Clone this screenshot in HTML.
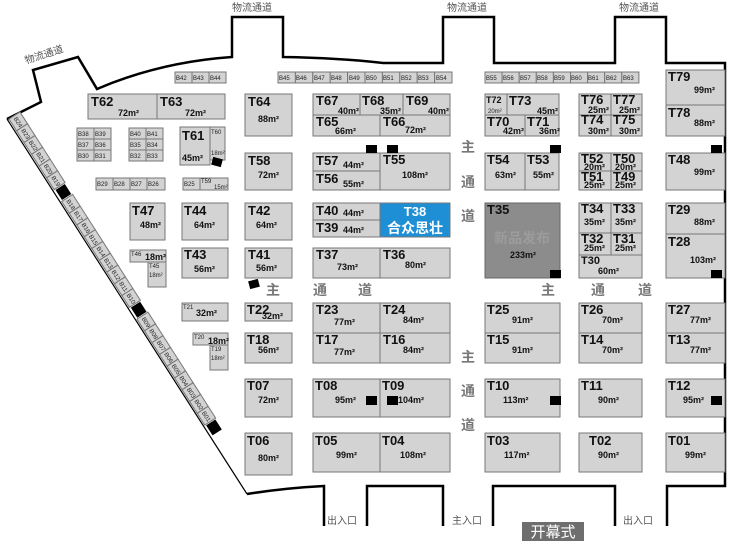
<!DOCTYPE html>
<html><head><meta charset="utf-8"><style>
html,body{margin:0;padding:0;background:#fff;}
svg{display:block;}
.b{fill:#d3d3d3;stroke:#777;stroke-width:1;}
.L{font-family:"Liberation Sans",sans-serif;font-weight:bold;font-size:13px;fill:#111;}
.A{font-family:"Liberation Sans",sans-serif;font-weight:bold;font-size:9px;fill:#111;}
.s{font-family:"Liberation Sans",sans-serif;font-size:6px;fill:#222;}
.C{font-family:"Liberation Sans","Noto Sans CJK SC",sans-serif;font-size:10px;fill:#555;}
.Z{font-family:"Liberation Sans","Noto Sans CJK SC",sans-serif;font-size:14px;font-weight:bold;fill:#777;}
.w{fill:none;stroke:#000;stroke-width:2.5;}
</style></head><body>
<svg width="735" height="543" viewBox="0 0 735 543" xmlns="http://www.w3.org/2000/svg">
<path class="w" d="M7,119 L41,102 L33,70 L78,57 L97,89 Q160,62 232,57 L232,17 L283,17 L283,57 Q340,58 383,63 L443,63 L443,17 L494,17 L494,63 L615,63 L615,17 L666,17 L666,63 L725,63 L725,486 L667,486 L667,526"/>
<path class="w" d="M615,526 L615,486 L493,486 L493,526"/>
<path class="w" d="M443,526 L443,486 L367,486 L367,526"/>
<path class="w" d="M324,526 L324,486 Q285,488 247,494"/>
<line x1="7" y1="119" x2="247" y2="494" stroke="#000" stroke-width="1.2"/>
<text class="C" x="232" y="11">物流通道</text>
<text class="C" x="447" y="11">物流通道</text>
<text class="C" x="619" y="11">物流通道</text>
<text class="C" x="26" y="64" transform="rotate(-18 26 64)">物流通道</text>
<text class="C" x="327" y="524">出入口</text>
<text class="C" x="452" y="524">主入口</text>
<text class="C" x="623" y="524">出入口</text>
<rect x="522" y="522" width="62" height="19" fill="#6e6e6e"/>
<text x="553" y="537" text-anchor="middle" font-family="Liberation Sans,Noto Sans CJK SC,sans-serif" font-size="15" fill="#fff">开幕式</text>
<text class="Z" x="266" y="295">主</text><text class="Z" x="313" y="295">通</text><text class="Z" x="358" y="295">道</text>
<text class="Z" x="541" y="295">主</text><text class="Z" x="591" y="295">通</text><text class="Z" x="638" y="295">道</text>
<text class="Z" x="461" y="152">主</text><text class="Z" x="461" y="187">通</text><text class="Z" x="461" y="221">道</text>
<text class="Z" x="461" y="362">主</text><text class="Z" x="461" y="396">通</text><text class="Z" x="461" y="430">道</text>

<g class="s">
<rect class="b" x="175" y="72" width="17" height="11"/><rect class="b" x="192" y="72" width="17" height="11"/><rect class="b" x="209" y="72" width="17" height="11"/>
<text x="176" y="80">B42</text><text x="193" y="80">B43</text><text x="210" y="80">B44</text>
</g>
<g class="s">
<rect class="b" x="278" y="72" width="17.4" height="11"/><rect class="b" x="295.4" y="72" width="17.4" height="11"/><rect class="b" x="312.8" y="72" width="17.4" height="11"/><rect class="b" x="330.2" y="72" width="17.4" height="11"/><rect class="b" x="347.6" y="72" width="17.4" height="11"/><rect class="b" x="365" y="72" width="17.4" height="11"/><rect class="b" x="382.4" y="72" width="17.4" height="11"/><rect class="b" x="399.8" y="72" width="17.4" height="11"/><rect class="b" x="417.2" y="72" width="17.4" height="11"/><rect class="b" x="434.6" y="72" width="17.4" height="11"/>
<text x="279" y="80">B45</text><text x="296" y="80">B46</text><text x="314" y="80">B47</text><text x="331" y="80">B48</text><text x="349" y="80">B49</text><text x="366" y="80">B50</text><text x="383" y="80">B51</text><text x="401" y="80">B52</text><text x="418" y="80">B53</text><text x="436" y="80">B54</text>
</g>
<g class="s">
<rect class="b" x="485" y="72" width="17.1" height="11"/><rect class="b" x="502.1" y="72" width="17.1" height="11"/><rect class="b" x="519.2" y="72" width="17.1" height="11"/><rect class="b" x="536.3" y="72" width="17.1" height="11"/><rect class="b" x="553.4" y="72" width="17.1" height="11"/><rect class="b" x="570.5" y="72" width="17.1" height="11"/><rect class="b" x="587.6" y="72" width="17.1" height="11"/><rect class="b" x="604.7" y="72" width="17.1" height="11"/><rect class="b" x="621.8" y="72" width="17.1" height="11"/>
<text x="486" y="80">B55</text><text x="503" y="80">B56</text><text x="520" y="80">B57</text><text x="537" y="80">B58</text><text x="554" y="80">B59</text><text x="571" y="80">B60</text><text x="588" y="80">B61</text><text x="606" y="80">B62</text><text x="623" y="80">B63</text>
</g>

<rect class="b" x="88" y="94" width="69" height="25"/><text class="L" x="91" y="106">T62</text><text class="A" x="118" y="116">72m²</text>
<rect class="b" x="157" y="94" width="68" height="25"/><text class="L" x="160" y="106">T63</text><text class="A" x="185" y="116">72m²</text>
<rect class="b" x="245" y="94" width="47" height="42"/><text class="L" x="248" y="106">T64</text><text class="A" x="258" y="122">88m²</text>
<rect class="b" x="313" y="94" width="47" height="21"/><text class="L" x="316" y="105">T67</text><text class="A" x="338" y="114">40m²</text>
<rect class="b" x="360" y="94" width="43" height="21"/><text class="L" x="362" y="105">T68</text><text class="A" x="380" y="114">35m²</text>
<rect class="b" x="403" y="94" width="47" height="21"/><text class="L" x="406" y="105">T69</text><text class="A" x="428" y="114">40m²</text>
<rect class="b" x="313" y="115" width="67" height="21"/><text class="L" x="316" y="126">T65</text><text class="A" x="335" y="134">66m²</text>
<rect class="b" x="380" y="115" width="70" height="21"/><text class="L" x="383" y="126">T66</text><text class="A" x="405" y="133">72m²</text>
<rect class="b" x="485" y="94" width="22" height="21"/><text class="A" x="486" y="103">T72</text><text class="s" x="488" y="113">20m²</text>
<rect class="b" x="507" y="94" width="52" height="21"/><text class="L" x="509" y="105">T73</text><text class="A" x="537" y="114">45m²</text>
<rect class="b" x="485" y="115" width="40" height="21"/><text class="L" x="487" y="126">T70</text><text class="A" x="503" y="134">42m²</text>
<rect class="b" x="525" y="115" width="34" height="21"/><text class="L" x="527" y="126">T71</text><text class="A" x="539" y="134">36m²</text>
<rect class="b" x="579" y="94" width="32" height="21"/><text class="L" x="581" y="104">T76</text><text class="A" x="588" y="113">25m²</text>
<rect class="b" x="611" y="94" width="31" height="21"/><text class="L" x="613" y="104">T77</text><text class="A" x="619" y="113">25m²</text>
<rect class="b" x="579" y="115" width="32" height="21"/><text class="L" x="581" y="124">T74</text><text class="A" x="588" y="134">30m²</text>
<rect class="b" x="611" y="115" width="31" height="21"/><text class="L" x="613" y="124">T75</text><text class="A" x="619" y="134">30m²</text>
<rect class="b" x="666" y="70" width="59" height="35"/><text class="L" x="668" y="81">T79</text><text class="A" x="694" y="93">99m²</text>
<rect class="b" x="666" y="105" width="59" height="31"/><text class="L" x="668" y="117">T78</text><text class="A" x="694" y="126">88m²</text>

<g class="s">
<rect class="b" x="77" y="128" width="17" height="11"/><rect class="b" x="94" y="128" width="17" height="11"/>
<rect class="b" x="77" y="139" width="17" height="11"/><rect class="b" x="94" y="139" width="17" height="11"/>
<rect class="b" x="77" y="150" width="17" height="11"/><rect class="b" x="94" y="150" width="17" height="11"/>
<text x="78" y="136">B38</text><text x="95" y="136">B39</text><text x="78" y="147">B37</text><text x="95" y="147">B36</text><text x="78" y="158">B30</text><text x="95" y="158">B31</text>
<rect class="b" x="129" y="128" width="17" height="11"/><rect class="b" x="146" y="128" width="17" height="11"/>
<rect class="b" x="129" y="139" width="17" height="11"/><rect class="b" x="146" y="139" width="17" height="11"/>
<rect class="b" x="129" y="150" width="17" height="11"/><rect class="b" x="146" y="150" width="17" height="11"/>
<text x="130" y="136">B40</text><text x="147" y="136">B41</text><text x="130" y="147">B35</text><text x="147" y="147">B34</text><text x="130" y="158">B32</text><text x="147" y="158">B33</text>
<rect class="b" x="96" y="178" width="17" height="12"/><rect class="b" x="113" y="178" width="17" height="12"/><rect class="b" x="130" y="178" width="17" height="12"/><rect class="b" x="147" y="178" width="18" height="12"/>
<text x="97" y="186">B29</text><text x="114" y="186">B28</text><text x="131" y="186">B27</text><text x="148" y="186">B26</text>
<rect class="b" x="183" y="178" width="17" height="12"/><rect class="b" x="200" y="178" width="28" height="12"/>
<text x="184" y="186">B25</text><text x="201" y="183">T59</text><text x="214" y="189">15m²</text>
</g>

<rect class="b" x="180" y="127" width="30" height="38"/><text class="L" x="182" y="140">T61</text><text class="A" x="182" y="161">45m²</text>
<rect class="b" x="210" y="127" width="15" height="33"/><text class="s" x="211" y="134">T60</text><text class="s" x="211" y="155">18m²</text>
<rect x="212" y="158" width="10" height="8" fill="#000" transform="rotate(15 217 162)"/>
<rect class="b" x="245" y="153" width="47" height="37"/><text class="L" x="248" y="165">T58</text><text class="A" x="258" y="178">72m²</text>
<rect class="b" x="313" y="153" width="67" height="18"/><text class="L" x="316" y="165">T57</text><text class="A" x="343" y="168">44m²</text>
<rect class="b" x="313" y="171" width="67" height="19"/><text class="L" x="316" y="183">T56</text><text class="A" x="343" y="187">55m²</text>
<rect class="b" x="380" y="153" width="70" height="37"/><text class="L" x="383" y="164">T55</text><text class="A" x="402" y="178">108m²</text>
<rect class="b" x="485" y="153" width="40" height="37"/><text class="L" x="487" y="164">T54</text><text class="A" x="495" y="178">63m²</text>
<rect class="b" x="525" y="153" width="34" height="37"/><text class="L" x="527" y="164">T53</text><text class="A" x="533" y="178">55m²</text>
<rect class="b" x="579" y="153" width="32" height="18"/><text class="L" x="581" y="163">T52</text><text class="A" x="584" y="170">20m²</text>
<rect class="b" x="611" y="153" width="31" height="18"/><text class="L" x="613" y="163">T50</text><text class="A" x="615" y="170">20m²</text>
<rect class="b" x="579" y="171" width="32" height="19"/><text class="L" x="581" y="181">T51</text><text class="A" x="584" y="188">25m²</text>
<rect class="b" x="611" y="171" width="31" height="19"/><text class="L" x="613" y="181">T49</text><text class="A" x="615" y="188">25m²</text>
<rect class="b" x="666" y="153" width="59" height="37"/><text class="L" x="668" y="164">T48</text><text class="A" x="694" y="175">99m²</text>
<rect x="366" y="145" width="11" height="8" fill="#000"/><rect x="387" y="145" width="11" height="8" fill="#000"/>
<rect x="550" y="145" width="11" height="8" fill="#000"/><rect x="711" y="145" width="11" height="8" fill="#000"/>

<rect class="b" x="130" y="203" width="35" height="37"/><text class="L" x="132" y="215">T47</text><text class="A" x="140" y="228">48m²</text>
<rect class="b" x="182" y="203" width="46" height="37"/><text class="L" x="184" y="215">T44</text><text class="A" x="194" y="228">64m²</text>
<rect class="b" x="245" y="203" width="47" height="37"/><text class="L" x="248" y="215">T42</text><text class="A" x="256" y="228">64m²</text>
<rect class="b" x="313" y="203" width="67" height="17"/><text class="L" x="316" y="215">T40</text><text class="A" x="343" y="216">44m²</text>
<rect class="b" x="313" y="220" width="67" height="17"/><text class="L" x="316" y="232">T39</text><text class="A" x="343" y="233">44m²</text>
<rect x="380" y="203" width="70" height="34" fill="#1e8fd5" stroke="#777"/>
<text x="415" y="216" text-anchor="middle" font-family="Liberation Sans,sans-serif" font-weight="bold" font-size="13" fill="#fff">T38</text>
<text x="415" y="233" text-anchor="middle" font-family="Liberation Sans,Noto Sans CJK SC,sans-serif" font-weight="bold" font-size="14" fill="#fff">合众思壮</text>
<rect x="485" y="203" width="75" height="75" fill="#8c8c8c" stroke="#666"/>
<text class="L" x="487" y="214">T35</text>
<text x="522" y="243" text-anchor="middle" font-family="Liberation Sans,Noto Sans CJK SC,sans-serif" font-weight="bold" font-size="14" fill="#9c9c9c">新品发布</text>
<text class="A" x="510" y="258">233m²</text>
<rect class="b" x="579" y="203" width="32" height="30"/><text class="L" x="581" y="213">T34</text><text class="A" x="584" y="225">35m²</text>
<rect class="b" x="611" y="203" width="31" height="30"/><text class="L" x="613" y="213">T33</text><text class="A" x="615" y="225">35m²</text>
<rect class="b" x="579" y="233" width="32" height="22"/><text class="L" x="581" y="243">T32</text><text class="A" x="584" y="251">25m²</text>
<rect class="b" x="611" y="233" width="31" height="22"/><text class="L" x="613" y="243">T31</text><text class="A" x="615" y="251">25m²</text>
<rect class="b" x="579" y="255" width="63" height="23"/><text class="A" x="581" y="264" style="font-size:11px">T30</text><text class="A" x="598" y="274">60m²</text>
<rect class="b" x="666" y="203" width="59" height="31"/><text class="L" x="668" y="214">T29</text><text class="A" x="694" y="225">88m²</text>
<rect class="b" x="666" y="234" width="59" height="44"/><text class="L" x="668" y="246">T28</text><text class="A" x="690" y="263">103m²</text>

<rect class="b" x="130" y="250" width="36" height="12"/><text class="s" x="131" y="256">T46</text><text class="A" x="145" y="260">18m²</text>
<rect class="b" x="148" y="262" width="18" height="25"/><text class="s" x="149" y="268">T45</text><text class="s" x="149" y="277">18m²</text>
<rect class="b" x="182" y="248" width="46" height="30"/><text class="L" x="184" y="259">T43</text><text class="A" x="194" y="272">56m²</text>
<rect class="b" x="245" y="248" width="47" height="30"/><text class="L" x="248" y="259">T41</text><text class="A" x="256" y="271">56m²</text>
<rect class="b" x="313" y="248" width="67" height="30"/><text class="L" x="316" y="259">T37</text><text class="A" x="337" y="270">73m²</text>
<rect class="b" x="380" y="248" width="70" height="30"/><text class="L" x="383" y="259">T36</text><text class="A" x="405" y="268">80m²</text>
<rect x="249" y="280" width="10" height="8" fill="#000" transform="rotate(-15 254 284)"/>
<rect x="550" y="270" width="11" height="8" fill="#000"/><rect x="711" y="270" width="11" height="8" fill="#000"/>

<rect class="b" x="182" y="303" width="46" height="18"/><text class="s" x="183" y="309">T21</text><text class="A" x="196" y="316">32m²</text>
<rect class="b" x="245" y="303" width="47" height="18"/><text class="L" x="247" y="314">T22</text><text class="A" x="262" y="319">32m²</text>
<rect class="b" x="313" y="303" width="67" height="30"/><text class="L" x="316" y="314">T23</text><text class="A" x="334" y="325">77m²</text>
<rect class="b" x="380" y="303" width="70" height="30"/><text class="L" x="383" y="314">T24</text><text class="A" x="403" y="323">84m²</text>
<rect class="b" x="313" y="333" width="67" height="30"/><text class="L" x="316" y="344">T17</text><text class="A" x="334" y="355">77m²</text>
<rect class="b" x="380" y="333" width="70" height="30"/><text class="L" x="383" y="344">T16</text><text class="A" x="403" y="353">84m²</text>
<rect class="b" x="485" y="303" width="75" height="30"/><text class="L" x="487" y="314">T25</text><text class="A" x="512" y="323">91m²</text>
<rect class="b" x="485" y="333" width="75" height="30"/><text class="L" x="487" y="344">T15</text><text class="A" x="512" y="353">91m²</text>
<rect class="b" x="579" y="303" width="63" height="30"/><text class="L" x="581" y="314">T26</text><text class="A" x="602" y="323">70m²</text>
<rect class="b" x="579" y="333" width="63" height="30"/><text class="L" x="581" y="344">T14</text><text class="A" x="602" y="353">70m²</text>
<rect class="b" x="666" y="303" width="59" height="30"/><text class="L" x="668" y="314">T27</text><text class="A" x="690" y="323">77m²</text>
<rect class="b" x="666" y="333" width="59" height="30"/><text class="L" x="668" y="344">T13</text><text class="A" x="690" y="353">77m²</text>
<rect class="b" x="193" y="333" width="35" height="12"/><text class="s" x="194" y="339">T20</text><text class="A" x="208" y="344">18m²</text>
<rect class="b" x="210" y="345" width="18" height="25"/><text class="s" x="211" y="351">T19</text><text class="s" x="211" y="360">18m²</text>
<rect class="b" x="245" y="333" width="47" height="30"/><text class="L" x="247" y="344">T18</text><text class="A" x="258" y="353">56m²</text>

<rect class="b" x="245" y="379" width="47" height="38"/><text class="L" x="247" y="390">T07</text><text class="A" x="258" y="403">72m²</text>
<rect class="b" x="313" y="379" width="67" height="38"/><text class="L" x="315" y="390">T08</text><text class="A" x="335" y="403">95m²</text>
<rect class="b" x="380" y="379" width="70" height="38"/><text class="L" x="382" y="390">T09</text><text class="A" x="398" y="403">104m²</text>
<rect class="b" x="485" y="379" width="75" height="38"/><text class="L" x="487" y="390">T10</text><text class="A" x="503" y="403">113m²</text>
<rect class="b" x="579" y="379" width="63" height="38"/><text class="L" x="581" y="390">T11</text><text class="A" x="598" y="403">90m²</text>
<rect class="b" x="666" y="379" width="59" height="38"/><text class="L" x="668" y="390">T12</text><text class="A" x="683" y="403">95m²</text>
<rect x="366" y="396" width="11" height="9" fill="#000"/><rect x="387" y="396" width="11" height="9" fill="#000"/>
<rect x="550" y="396" width="11" height="9" fill="#000"/><rect x="711" y="396" width="11" height="9" fill="#000"/>

<rect class="b" x="245" y="433" width="47" height="42"/><text class="L" x="247" y="445">T06</text><text class="A" x="258" y="461">80m²</text>
<rect class="b" x="313" y="433" width="67" height="39"/><text class="L" x="315" y="445">T05</text><text class="A" x="336" y="458">99m²</text>
<rect class="b" x="380" y="433" width="70" height="39"/><text class="L" x="382" y="445">T04</text><text class="A" x="400" y="458">108m²</text>
<rect class="b" x="485" y="433" width="75" height="39"/><text class="L" x="487" y="445">T03</text><text class="A" x="504" y="458">117m²</text>
<rect class="b" x="579" y="433" width="63" height="39"/><text class="L" x="589" y="445">T02</text><text class="A" x="598" y="458">90m²</text>
<rect class="b" x="666" y="433" width="59" height="39"/><text class="L" x="668" y="445">T01</text><text class="A" x="685" y="458">99m²</text>

<g transform="translate(9,119) rotate(57.4) scale(1.035,1)" class="s">
<rect class="b" x="0" y="-13" width="13.5" height="13"/><text x="2" y="-4">B24</text>
<rect class="b" x="13.5" y="-13" width="13.5" height="13"/><text x="15.5" y="-4">B23</text>
<rect class="b" x="27" y="-13" width="13.5" height="13"/><text x="29" y="-4">B22</text>
<rect class="b" x="40.5" y="-13" width="13.5" height="13"/><text x="42.5" y="-4">B21</text>
<rect class="b" x="54" y="-13" width="13.5" height="13"/><text x="56" y="-4">B20</text>
<rect class="b" x="67.5" y="-13" width="13.5" height="13"/><text x="69.5" y="-4">B19</text>
<rect x="82" y="-12" width="11.5" height="11" fill="#000"/>
<rect class="b" x="94.5" y="-13" width="13.5" height="13"/><text x="96.5" y="-4">B18</text>
<rect class="b" x="108" y="-13" width="13.5" height="13"/><text x="110" y="-4">B17</text>
<rect class="b" x="121.5" y="-13" width="13.5" height="13"/><text x="123.5" y="-4">B16</text>
<rect class="b" x="135" y="-13" width="13.5" height="13"/><text x="137" y="-4">B15</text>
<rect class="b" x="148.5" y="-13" width="13.5" height="13"/><text x="150.5" y="-4">B14</text>
<rect class="b" x="162" y="-13" width="13.5" height="13"/><text x="164" y="-4">B13</text>
<rect class="b" x="175.5" y="-13" width="13.5" height="13"/><text x="177.5" y="-4">B12</text>
<rect class="b" x="189" y="-13" width="13.5" height="13"/><text x="191" y="-4">B11</text>
<rect class="b" x="202.5" y="-13" width="13.5" height="13"/><text x="204.5" y="-4">B10</text>
<rect x="217" y="-12" width="11.5" height="11" fill="#000"/>
<rect class="b" x="229.5" y="-13" width="13.5" height="13"/><text x="231.5" y="-4">B09</text>
<rect class="b" x="243" y="-13" width="13.5" height="13"/><text x="245" y="-4">B08</text>
<rect class="b" x="256.5" y="-13" width="13.5" height="13"/><text x="258.5" y="-4">B07</text>
<rect class="b" x="270" y="-13" width="13.5" height="13"/><text x="272" y="-4">B06</text>
<rect class="b" x="283.5" y="-13" width="13.5" height="13"/><text x="285.5" y="-4">B05</text>
<rect class="b" x="297" y="-13" width="13.5" height="13"/><text x="299" y="-4">B04</text>
<rect class="b" x="310.5" y="-13" width="13.5" height="13"/><text x="312.5" y="-4">B03</text>
<rect class="b" x="324" y="-13" width="13.5" height="13"/><text x="326" y="-4">B02</text>
<rect class="b" x="337.5" y="-13" width="13.5" height="13"/><text x="339.5" y="-4">B01</text>
<rect x="352" y="-12" width="11.5" height="11" fill="#000"/>
</g>
</svg>
</body></html>
